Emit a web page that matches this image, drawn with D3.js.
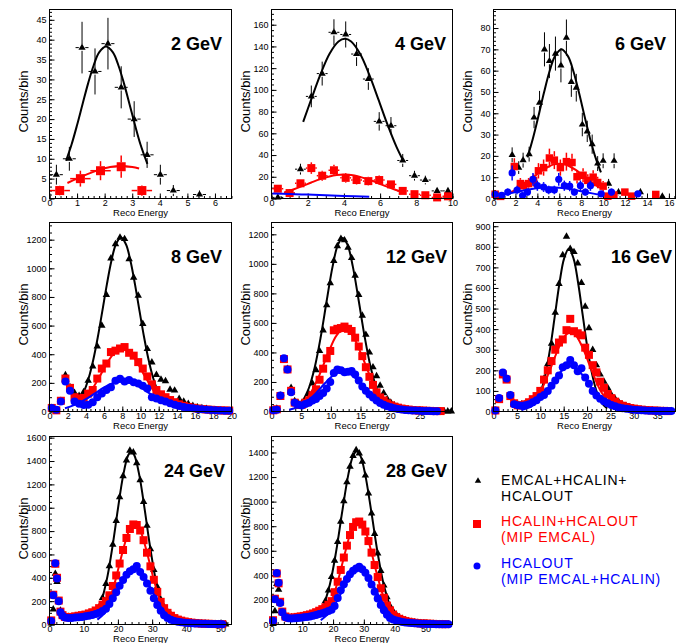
<!DOCTYPE html>
<html><head><meta charset="utf-8">
<script src="https://cdn.jsdelivr.net/npm/d3@7/dist/d3.min.js"></script>
<style>
body{margin:0;background:#fff;}
svg{display:block;font-family:"Liberation Sans",Arial,Helvetica,sans-serif;}
</style></head><body>
<svg id="chart" width="688" height="643"></svg>
<script>
// ---------------- DATA ----------------
const panelTitles = ["2 GeV","4 GeV","6 GeV","8 GeV","12 GeV","16 GeV","24 GeV","28 GeV"];
const legendLabels = [["EMCAL+HCALIN+","HCALOUT"],["HCALIN+HCALOUT","(MIP EMCAL)"],["HCALOUT","(MIP EMCAL+HCALIN)"]];

// tick labels
const p1_xTicks=[0,1,2,3,4,5,6], p1_yTicks=[0,5,10,15,20,25,30,35,40,45];
const p2_xTicks=[0,2,4,6,8,10], p2_yTicks=[0,20,40,60,80,100,120,140,160];
const p3_xTicks=[0,2,4,6,8,10,12,14,16], p3_yTicks=[0,10,20,30,40,50,60,70,80];
const p4_xTicks=[0,2,4,6,8,10,12,14,16,18,20], p4_yTicks=[0,200,400,600,800,1000,1200];
const p5_xTicks=[0,5,10,15,20,25], p5_yTicks=[0,200,400,600,800,1000,1200];
const p6_xTicks=[0,5,10,15,20,25,30,35], p6_yTicks=[0,100,200,300,400,500,600,700,800,900];
const p7_xTicks=[0,10,20,30,40,50], p7_yTicks=[0,200,400,600,800,1000,1200,1400,1600];
const p8_xTicks=[0,10,20,30,40,50], p8_yTicks=[0,200,400,600,800,1000,1200,1400];

// 2 GeV
const p1_blackX=[0.25,0.72,1.18,1.65,2.12,2.6,3.07,3.54,4.02,4.49,5.44];
const p1_blackY=[6,10,38,32,39,28,20,11,6,2,1];
const p1_blackErr=[2.5,3,6.5,5.8,6.5,5.3,4.5,3.3,2.5,1.4,1];
const p1_redX=[0.37,1.12,1.85,2.6,3.35];
const p1_redY=[2,5,7,8,2];
const p1_redErr=[1.2,2,2.4,2.8,1.3];
const p1_fitBlackX=[0.6,0.8,1.0,1.2,1.4,1.6,1.8,2.05,2.3,2.5,2.7,2.9,3.1,3.3,3.55];
const p1_fitBlackY=[9.5,13.6,18.5,23.8,29,33.5,36.8,38.3,36.8,33.5,29,23.8,18.5,13.6,8.7];
const p1_fitRedX=[0.65,1.0,1.4,1.8,2.2,2.6,3.0,3.25];
const p1_fitRedY=[3.9,5.0,6.2,7.2,7.95,8.2,7.95,7.55];

// 4 GeV
const p2_x=[0.35,1.0,1.6,2.2,2.8,3.45,4.1,4.7,5.35,5.95,6.6,7.25,7.9,8.5,9.15,9.75];
const p2_blackY=[1,5,27,94,115,153,151,133,110,71,67,35,21,17,7,7];
const p2_blackErr=[1,2.5,5,10,11,12,12,11,10,8.5,8,6,4.5,4,2.6,2.6];
const p2_redY=[9,5,14,28,21,26,19,17,16,17,13,7,4,3,1,2];
const p2_redErr=[3,2,3.7,5.3,4.6,5.1,4.4,4.1,4,4.1,3.6,2.6,2,1.7,1,1.4];
const p2_fitBlackX=[1.75,2.2,2.7,3.2,3.7,4.05,4.4,4.9,5.4,5.9,6.4,6.9,7.3];
const p2_fitBlackY=[70.6,91.5,114,133,144.5,147,144.5,133,114,91.5,68.4,47.7,34];
const p2_fitRedX=[0.7,1.2,1.7,2.2,2.7,3.2,3.6,4.0,4.4,4.8,5.3,5.8,6.3,6.8,7.3];
const p2_fitRedY=[5.6,8.3,11.4,14.7,17.8,20.3,21.6,22,21.6,20.3,17.8,14.7,11.4,8.3,5.6];
const p2_fitBlueX=[0.05,1,2,3,4,5.4];
const p2_fitBlueY=[4.5,4.1,3.6,3.0,2.4,1.6];

// 6 GeV
const p3_blackX=[1.7,2.3,2.7,3.25,3.7,4.2,4.65,5.1,5.65,6.15,6.65,7.1,7.55,8.1,8.55,9.0,9.5,10.0,10.5,11.0,11.4,13.4,15.4];
const p3_blackY=[20.5,14.5,18,20.8,38,45,70,64.5,68,62.5,75.5,54.7,52,34.7,31.5,25.5,16.4,17.7,7,17.7,3,3,1];
const p3_blackErr=[3.5,3,3.5,3.5,5,5.5,8,8,8,8,8.5,7,6.5,5.5,5,4.5,3.5,3.5,2.2,3.5,1.6,1.6,1];
const p3_redX=[0.15,0.65,1.9,2.45,2.75,3.2,3.66,4.1,4.57,5.1,5.55,6.1,6.65,7.16,7.62,8.17,8.6,9.09,9.5,10.0,10.43,10.98,11.98,12.6,14.8];
const p3_redY=[2,1,15,7,6,7,8.5,13,14.5,19,18,14.5,17.3,16.9,10.2,10.9,8.5,10,7.5,5.8,1.1,1.6,3,1.1,1.9];
const p3_redErr=[1.4,1,3.9,2.6,2.4,2.6,2.9,3.6,3.8,4.4,4.2,3.8,4.2,4.1,3.2,3.3,2.9,3.2,2.7,2.4,1,1.3,1.7,1,1.4];
const p3_blueX=[0.15,0.75,1.3,1.7,2.15,2.65,3.1,3.6,4.0,4.57,5.03,5.55,5.95,6.46,6.95,7.38,7.93,8.38,8.84,9.82,10.76,13.17];
const p3_blueY=[2,1.5,3,12,4,1.4,3,9,6,5.4,4,4,9,6,5.8,3,6,3,6,2.2,3,2.2];
const p3_blueErr=[1.4,1.2,1.7,3.5,2,1.2,1.7,3,2.4,2.3,2,2,3,2.4,2.4,1.7,2.4,1.7,2.4,1.5,1.7,1.5];
const p3_fitBlackX=[3.1,3.6,4.1,4.6,5.1,5.6,6.2,6.8,7.3,7.8,8.3,8.8,9.3,9.8];
const p3_fitBlackY=[19.3,28.3,38.7,49.6,59.5,66.7,70,66.7,59.5,49.6,38.7,28.3,19.3,12.3];
const p3_fitRedX=[1.5,2.0,2.5,3.0,3.5,4.0,4.5,5.0,5.5,6.0,6.5,7.0,7.5,8.0,8.5,9.0,9.7];
const p3_fitRedY=[2.8,4.1,5.6,7.5,9.5,11.5,13.4,14.9,16.0,16.3,16.0,14.9,13.4,11.5,9.5,7.5,5.0];
const p3_fitBlueX=[0.6,1.5,2.5,3.5,4.5,5.2,6.0,7.0,8.0,9.0,9.9];
const p3_fitBlueY=[1.6,2.5,3.5,4.5,5.16,5.3,5.1,4.4,3.4,2.4,1.55];

// 8 GeV
const p4_x=[0.25,0.75,1.25,1.75,2.25,2.75,3.25,3.75,4.25,4.75,5.25,5.75,6.25,6.75,7.25,7.75,8.25,8.75,9.25,9.75,10.25,10.75,11.25,11.75,12.25,12.75,13.25,13.75,14.25,14.75,15.25,15.75,16.25,16.75,17.25,17.75,18.25,18.75,19.25,19.75];
const p4_black=[25,10,75,255,170,130,110,135,215,315,455,600,815,1070,1170,1215,1205,1065,935,810,612,437,344,256,223,212,153,147,88,70,53,40,30,24,18,14,11,8,6,5];
const p4_red=[25,8,75,230,165,100,90,95,125,150,230,300,335,415,425,440,450,410,390,345,300,245,190,150,120,100,80,65,50,40,32,26,21,17,14,12,10,8,7,6];
const p4_blue=[25,12,70,210,145,70,55,45,48,65,100,125,150,170,215,228,210,220,205,195,180,160,100,90,78,70,58,47,38,32,26,22,18,15,12,10,8,7,6,5];
const p4_fitBlackX=[3.3,3.8,4.3,4.8,5.3,5.8,6.3,6.8,7.3,7.85,8.4,8.9,9.4,9.9,10.4,10.9,11.4,11.9];
const p4_fitBlackY=[80,141,232,358,517,699,886,1051,1168,1215,1168,1051,886,699,517,358,232,141];
const p4_fitRedX=[3.5,4.5,5.5,6.5,7.25,8.0,8.75,9.5,10.5,11.5,12.0];
const p4_fitRedY=[65,138,244,356,417,440,417,356,244,138,97];
const p4_fitBlueX=[1.7,3,4,5,6,7,8,9,10,11,12,13,14];
const p4_fitBlueY=[23,52,86,127,168,199,210,199,168,127,86,52,23];

// 12 GeV
const p5_x=[0.3,0.9,1.5,2.1,2.7,3.3,3.9,4.5,5.1,5.7,6.3,6.9,7.5,8.1,8.7,9.3,9.9,10.5,11.1,11.7,12.3,12.9,13.5,14.1,14.7,15.3,15.9,16.5,17.1,17.7,18.3,18.9,19.5,20.1,20.7,21.3,21.9,22.5,23.1,23.7,24.3,24.9,25.5,26.1,26.7,27.3,27.9,28.5,29.1,29.7,30.3];
const p5_black=[5,20,108,350,290,160,70,55,55,72,118,190,280,410,550,720,870,1020,1120,1170,1160,1110,1040,920,790,650,520,400,300,240,175,125,85,60,42,30,22,16,12,10,8,6,5,4,3,3,2,2,1,1,1];
const p5_red=[8,15,105,355,285,140,60,45,45,60,75,110,150,215,290,360,410,550,560,565,575,560,545,500,440,375,300,235,180,130,95,75,55,42,33,26,20,16,13,10,8,7,6,5,4,3,3,3,null,null,null];
const p5_blue=[8,12,108,360,285,130,60,45,40,50,60,75,85,105,125,155,200,260,285,280,265,270,275,250,210,170,140,115,95,75,58,45,35,28,22,17,14,11,9,7,6,5,4,3,3,2,2,null,null,null,null];
const p5_fitBlackX=[5.3,6.3,7.3,8.3,9.3,10.3,11.2,12.0,12.8,13.7,14.7,15.7,16.7,17.7,18.7,19.7,20.5];
const p5_fitBlackY=[74,159,302,506,750,983,1130,1175,1130,983,750,506,302,159,74,30.5,14];
const p5_fitRedX=[5,6.5,8,9.5,11,12.3,13.6,15.1,16.6,18.1,19.6];
const p5_fitRedY=[49,119,240,391,518,560,518,391,240,119,49];
const p5_fitBlueX=[3,4.5,6,7.5,9,10.5,12,13.5,15,16.5,18,19.5,21];
const p5_fitBlueY=[12,31,67,124,191,248,270,248,191,124,67,31,12];

// 16 GeV
const p6_x=[0.4,1.2,2.0,2.8,3.6,4.4,5.2,6.0,6.8,7.6,8.4,9.2,10.0,10.8,11.6,12.4,13.2,14.0,14.8,15.6,16.4,17.2,18.0,18.8,19.6,20.4,21.2,22.0,22.8,23.6,24.4,25.2,26.0,26.8,27.6,28.4,29.2,30.0,30.8,31.6,32.4,33.2,34.0,34.8,35.6,36.4,37.2,38.0];
const p6_black=[5,55,175,155,80,40,35,35,40,45,55,70,100,160,230,330,480,620,760,850,790,775,720,625,510,405,300,225,180,145,115,80,60,45,33,25,19,15,12,10,8,6,5,4,3,3,2,2];
const p6_red=[5,60,180,155,75,40,30,30,35,45,60,75,100,155,200,245,300,335,350,395,450,390,380,370,310,275,225,190,145,115,85,65,48,36,28,22,17,14,11,9,7,6,5,4,3,3,2,null];
const p6_blue=[5,65,190,160,80,35,30,28,30,35,45,55,70,80,100,125,150,175,215,225,250,225,195,210,165,135,100,78,62,50,40,32,25,20,16,13,11,9,7,6,5,4,4,3,3,2,2,2];
const p6_fitBlackX=[10.1,11.1,12.1,13.1,14.1,15.1,16.1,17.1,18.1,19.1,20.1,21.1,22.1,23.1,24.3];
const p6_fitBlackY=[93,179,305,463,623,744,790,744,623,463,305,179,93,43,14.5];
const p6_fitRedX=[8,10,12,14,15.5,16.5,17.5,19,21,23,25];
const p6_fitRedY=[36,96,198,313,373,385,373,313,198,96,36];
const p6_fitBlueX=[6,8.5,11,13,15,16.4,17.8,19.8,21.8,24.3,26.8];
const p6_fitBlueY=[7.5,31,88,153,207,220,207,153,88,31,7.5];

// 24 GeV
const p7_x=[0.5,1.1,1.7,2.2,2.7,3.2,3.8,4.5,5.5,6.5,7.5,8.5,9.5,10.5,11.5,12.5,13.5,14.5,15.5,16.5,17.5,18.5,19.5,20.5,21.5,22.5,23.5,24.5,25.5,26.5,27.5,28.5,29.5,30.5,31.5,32.5,33.5,34.5,35.5,36.5,37.5,38.5,39.5,40.5,41.5,42.5,43.5,44.5,45.5,46.5,47.5,48.5,49.5,50.5,51.5];
const p7_black=[10,130,435,365,200,120,90,75,65,60,60,65,70,75,85,95,115,150,229,348,501,685,888,1091,1271,1406,1490,1475,1383,1237,1051,846,646,468,322,215,150,110,80,60,45,35,27,20,16,12,10,8,6,5,4,3,3,2,2];
const p7_red=[35,255,520,400,205,110,80,65,60,65,70,75,80,85,95,105,120,140,170,200,250,330,420,522,638,741,818,857,852,805,722,615,498,383,279,194,140,100,75,55,42,33,26,20,16,13,10,8,7,6,5,4,3,3,null];
const p7_blue=[30,250,525,395,200,105,75,60,55,55,60,62,65,70,75,82,90,100,115,135,175,224,277,331,382,425,456,473,500,449,407,351,288,225,167,118,80,55,40,31,24,19,15,12,10,9,8,7,6,5,5,4,4,3,null];
const p7_fitBlackX=[15.5,17,18.5,20,21.5,23,23.9,24.8,26.3,27.8,29.3,30.8,32.3,33.8];
const p7_fitBlackY=[229,421,685,990,1271,1449,1480,1449,1271,990,685,421,229,111];
const p7_fitRedX=[16,17.5,19,20.5,22,23.5,24.9,26.3,27.8,29.3,30.8,32.3,33.8];
const p7_fitRedY=[111,209,350,522,692,818,860,818,692,522,350,209,111];
const p7_fitBlueX=[14,16,18,20,22,23.5,25,26.5,28,30,32,34,36];
const p7_fitBlueY=[42,94,178,288,397,454,475,454,397,288,178,94,42];

// 28 GeV
const p8_x=[0.5,1.1,1.7,2.3,2.8,3.5,4.5,5.5,6.5,7.5,8.5,9.5,10.5,11.5,12.5,13.5,14.5,15.5,16.5,17.5,18.5,19.5,20.5,21.5,22.5,23.5,24.5,25.5,26.5,27.5,28.5,29.5,30.5,31.5,32.5,33.5,34.5,35.5,36.5,37.5,38.5,39.5,40.5,41.5,42.5,43.5,44.5,45.5,46.5,47.5,48.5,49.5,50.5,51.5,52.5,53.5,54.5,55.5,56.5,57.5];
const p8_black=[5,110,330,285,180,100,70,60,58,58,60,62,66,70,75,82,90,100,125,191,277,387,520,673,838,1004,1158,1285,1372,1420,1393,1325,1213,1068,905,738,580,437,318,223,150,110,80,60,46,36,28,22,18,14,11,9,7,6,5,4,3,3,2,2];
const p8_red=[35,210,415,335,185,105,65,55,55,58,62,66,70,76,82,90,100,112,125,140,160,190,263,348,444,545,642,728,794,832,838,813,757,679,585,484,386,295,218,154,115,80,60,46,36,28,22,18,14,11,9,8,7,6,5,4,4,3,3,null];
const p8_blue=[30,205,420,340,175,100,60,50,48,50,52,55,58,62,66,72,78,85,92,100,110,120,150,215,279,327,371,409,438,456,470,450,422,379,325,267,211,159,115,79,52,40,32,26,21,17,14,12,10,8,7,6,5,4,4,3,3,3,2,2];
const p8_fitBlackX=[17,19,21,23,25,26.5,27.7,28.9,30.4,32.4,34.4,36.4,38.4];
const p8_fitBlackY=[156,329,595,922,1226,1372,1410,1372,1226,922,595,329,156];
const p8_fitRedX=[18,20,22,24,26,28.2,30.4,32.4,34.4,36.4,38.4];
const p8_fitRedY=[109,225,395,594,764,840,764,594,395,225,109];
const p8_fitBlueX=[16,19,22,25,27,28.5,30,32,35,38,41];
const p8_fitBlueY=[34.5,102,226,372,438,455,438,372,226,102,34.5];

// ---------------- LAYOUT / STYLE ----------------
const colLeft=[49.5,271.5,493.5], colRight=[231.5,452.5,675.5];
const rowTop=[9.5,222.5,436.5], rowBottom=[198.5,411.5,624.5];
const COLORS={black:"#000000",red:"#ff0000",blue:"#0000ff"};

const panels=[
 {t:0,c:0,r:0,xMax:6.6,yMax:47.6,xMinor:0.2,yMinor:1,xTicks:p1_xTicks,yTicks:p1_yTicks,titleX:222,sq:9,tri:22,rad:3.5,
  series:[{k:"black",x:p1_blackX,y:p1_blackY,ey:p1_blackErr,ex:0.235,fx:p1_fitBlackX,fy:p1_fitBlackY},
          {k:"red",x:p1_redX,y:p1_redY,ey:p1_redErr,ex:0.37,fx:p1_fitRedX,fy:p1_fitRedY}]},
 {t:1,c:1,r:0,xMax:10,yMax:174,xMinor:0.5,yMinor:5,xTicks:p2_xTicks,yTicks:p2_yTicks,titleX:446,sq:8,tri:22,rad:3.5,
  series:[{k:"black",x:p2_x,y:p2_blackY,ey:p2_blackErr,ex:0.3,fx:p2_fitBlackX,fy:p2_fitBlackY},
          {k:"red",x:p2_x,y:p2_redY,ey:p2_redErr,ex:0.3,fx:p2_fitRedX,fy:p2_fitRedY},
          {k:"blue",x:[],y:[],fx:p2_fitBlueX,fy:p2_fitBlueY}]},
 {t:2,c:2,r:0,xMax:16.6,yMax:88.7,xMinor:0.5,yMinor:2,xTicks:p3_xTicks,yTicks:p3_yTicks,titleX:666,sq:7.5,tri:22,rad:3.6,
  series:[{k:"black",x:p3_blackX,y:p3_blackY,ey:p3_blackErr,ex:0.23,fx:p3_fitBlackX,fy:p3_fitBlackY},
          {k:"red",x:p3_redX,y:p3_redY,ey:p3_redErr,ex:0.23,fx:p3_fitRedX,fy:p3_fitRedY},
          {k:"blue",x:p3_blueX,y:p3_blueY,ey:p3_blueErr,ex:0.23,fx:p3_fitBlueX,fy:p3_fitBlueY}]},
 {t:3,c:0,r:1,xMax:20,yMax:1320,xMinor:0.5,yMinor:50,xTicks:p4_xTicks,yTicks:p4_yTicks,titleX:222,sq:8,tri:24,rad:4,
  series:[{k:"black",x:p4_x,y:p4_black,fx:p4_fitBlackX,fy:p4_fitBlackY},
          {k:"red",x:p4_x,y:p4_red,fx:p4_fitRedX,fy:p4_fitRedY},
          {k:"blue",x:p4_x,y:p4_blue,fx:p4_fitBlueX,fy:p4_fitBlueY}]},
 {t:4,c:1,r:1,xMax:30.5,yMax:1280,xMinor:1,yMinor:50,xTicks:p5_xTicks,yTicks:p5_yTicks,titleX:447,sq:8,tri:24,rad:4,
  series:[{k:"black",x:p5_x,y:p5_black,fx:p5_fitBlackX,fy:p5_fitBlackY},
          {k:"red",x:p5_x,y:p5_red,fx:p5_fitRedX,fy:p5_fitRedY},
          {k:"blue",x:p5_x,y:p5_blue,fx:p5_fitBlueX,fy:p5_fitBlueY}]},
 {t:5,c:2,r:1,xMax:38.9,yMax:918,xMinor:1,yMinor:20,xTicks:p6_xTicks,yTicks:p6_yTicks,titleX:672,sq:8,tri:24,rad:4,
  series:[{k:"black",x:p6_x,y:p6_black,fx:p6_fitBlackX,fy:p6_fitBlackY},
          {k:"red",x:p6_x,y:p6_red,fx:p6_fitRedX,fy:p6_fitRedY},
          {k:"blue",x:p6_x,y:p6_blue,fx:p6_fitBlueX,fy:p6_fitBlueY}]},
 {t:6,c:0,r:2,xMax:53.2,yMax:1610,xMinor:2,yMinor:50,xTicks:p7_xTicks,yTicks:p7_yTicks,titleX:225,sq:8,tri:24,rad:4,
  series:[{k:"black",x:p7_x,y:p7_black,fx:p7_fitBlackX,fy:p7_fitBlackY},
          {k:"red",x:p7_x,y:p7_red,fx:p7_fitRedX,fy:p7_fitRedY},
          {k:"blue",x:p7_x,y:p7_blue,fx:p7_fitBlueX,fy:p7_fitBlueY}]},
 {t:7,c:1,r:2,xMax:58.8,yMax:1530,xMinor:2,yMinor:50,xTicks:p8_xTicks,yTicks:p8_yTicks,titleX:447,sq:8,tri:24,rad:4,
  series:[{k:"black",x:p8_x,y:p8_black,fx:p8_fitBlackX,fy:p8_fitBlackY},
          {k:"red",x:p8_x,y:p8_red,fx:p8_fitRedX,fy:p8_fitRedY},
          {k:"blue",x:p8_x,y:p8_blue,fx:p8_fitBlueX,fy:p8_fitBlueY}]}
];

// ---------------- RENDER ----------------
const svg=d3.select("#chart");
svg.append("rect").attr("width",688).attr("height",643).attr("fill","#fff");
const FONT='"Liberation Sans",Arial,Helvetica,sans-serif';

function styleAxis(a){
  a.attr("font-size",null).attr("font-family",null).attr("color","#000");
  a.select(".domain").remove();
  a.selectAll("line").attr("stroke","#000").attr("stroke-width",1);
  a.selectAll("text").attr("font-family",FONT).attr("font-size","9px").attr("fill","#000");
}

panels.forEach(p=>{
  const L=colLeft[p.c],R=colRight[p.c],T=rowTop[p.r],B=rowBottom[p.r];
  const x=d3.scaleLinear().domain([0,p.xMax]).range([L,R]);
  const y=d3.scaleLinear().domain([0,p.yMax]).range([B,T]);
  const g=svg.append("g");
  g.append("rect").attr("x",L).attr("y",T).attr("width",R-L).attr("height",B-T).attr("fill","#fff");

  // minor ticks
  const xMin=d3.range(0,p.xMax+1e-9,p.xMinor), yMin=d3.range(0,p.yMax+1e-9,p.yMinor);
  g.append("g").attr("transform",`translate(0,${B})`)
    .call(d3.axisBottom(x).tickValues(xMin).tickSizeInner(-2.5).tickSizeOuter(0).tickFormat(""))
    .call(styleAxis);
  g.append("g").attr("transform",`translate(${L},0)`)
    .call(d3.axisLeft(y).tickValues(yMin).tickSizeInner(-2.5).tickSizeOuter(0).tickFormat(""))
    .call(styleAxis);
  // major ticks + labels
  g.append("g").attr("transform",`translate(0,${B})`)
    .call(d3.axisBottom(x).tickValues(p.xTicks).tickSizeInner(-5).tickSizeOuter(0).tickPadding(1).tickFormat(d=>String(d)))
    .call(styleAxis);
  g.append("g").attr("transform",`translate(${L},0)`)
    .call(d3.axisLeft(y).tickValues(p.yTicks).tickSizeInner(-5).tickSizeOuter(0).tickPadding(3).tickFormat(d=>String(d)))
    .call(styleAxis);

  // data
  const plot=g.append("g");
  p.series.forEach(s=>{
    const col=COLORS[s.k];
    const pts=s.x.map((xv,i)=>({x:xv,y:s.y[i],e:s.ey?s.ey[i]:null})).filter(d=>d.y!=null&&d.y!==undefined);
    const gap = s.k==="red" ? p.sq/2 : 3.2;
    if(s.ey){
      const eg=plot.append("g").attr("stroke",col).attr("stroke-width",s.k==="black"?1:1.5);
      pts.forEach(d=>{
        const px=x(d.x),py=y(d.y);
        const top=y(d.y+d.e), bot=Math.min(B,y(Math.max(0,d.y-d.e)));
        if(py-top>gap) eg.append("line").attr("x1",px).attr("x2",px).attr("y1",top).attr("y2",py-gap);
        if(bot-py>gap) eg.append("line").attr("x1",px).attr("x2",px).attr("y1",py+gap).attr("y2",bot);
        const l=Math.max(L,x(d.x-s.ex)), r=Math.min(R,x(d.x+s.ex));
        if(px-l>gap) eg.append("line").attr("x1",l).attr("x2",px-gap).attr("y1",py).attr("y2",py);
        if(r-px>gap) eg.append("line").attr("x1",px+gap).attr("x2",r).attr("y1",py).attr("y2",py);
      });
    }
    const mg=plot.append("g").attr("fill",col);
    if(s.k==="black"){
      const sym=d3.symbol().type(d3.symbolTriangle).size(p.tri);
      mg.selectAll("path").data(pts).join("path").attr("d",sym)
        .attr("transform",d=>`translate(${x(d.x)},${y(d.y)})`);
    } else if(s.k==="red"){
      mg.selectAll("rect").data(pts).join("rect")
        .attr("x",d=>x(d.x)-p.sq/2).attr("y",d=>y(d.y)-p.sq/2).attr("width",p.sq).attr("height",p.sq);
    } else {
      mg.selectAll("circle").data(pts).join("circle")
        .attr("cx",d=>x(d.x)).attr("cy",d=>y(d.y)).attr("r",p.rad);
    }
    if(s.fx){
      const fpts=s.fx.map((xv,i)=>[xv,s.fy[i]]);
      plot.append("path").datum(fpts)
        .attr("d",d3.line().x(d=>x(d[0])).y(d=>y(d[1])).curve(d3.curveCatmullRom.alpha(0.5)))
        .attr("fill","none").attr("stroke",col).attr("stroke-width",2);
    }
  });

  // frame
  g.append("rect").attr("x",L).attr("y",T).attr("width",R-L).attr("height",B-T)
    .attr("fill","none").attr("stroke","#000").attr("stroke-width",1);

  // titles
  g.append("text").attr("x",p.titleX).attr("y",T+40.5).attr("text-anchor","end")
    .attr("font-family",FONT).attr("font-weight","bold").attr("font-size","18px").attr("fill","#000")
    .text(panelTitles[p.t]);
  g.append("text").attr("transform",`translate(${L-22},${T+92}) rotate(-90)`).attr("text-anchor","middle")
    .attr("font-family",FONT).attr("font-size","13px").attr("fill","#000").text("Counts/bin");
  g.append("text").attr("x",(L+R)/2).attr("y",B+17.5).attr("text-anchor","middle")
    .attr("font-family",FONT).attr("font-size","9.5px").attr("fill","#000").text("Reco Energy");
});

// legend
const leg=svg.append("g").attr("font-family",FONT).attr("font-size","14px").attr("letter-spacing","0.8px");
const legY=[485,526,568];
["black","red","blue"].forEach((k,i)=>{
  const col=COLORS[k], cy=legY[i]-3;
  if(k==="black") leg.append("path").attr("d",d3.symbol().type(d3.symbolTriangle).size(18)()).attr("transform",`translate(478,${cy-1})`).attr("fill",col);
  else if(k==="red") leg.append("rect").attr("x",473).attr("y",cy-3).attr("width",8).attr("height",8).attr("fill",col);
  else leg.append("circle").attr("cx",477).attr("cy",cy+1).attr("r",3.5).attr("fill",col);
  legendLabels[i].forEach((t,j)=>{
    leg.append("text").attr("x",501).attr("y",legY[i]+j*16.3).attr("fill",col).text(t);
  });
});
</script>
</body></html>
